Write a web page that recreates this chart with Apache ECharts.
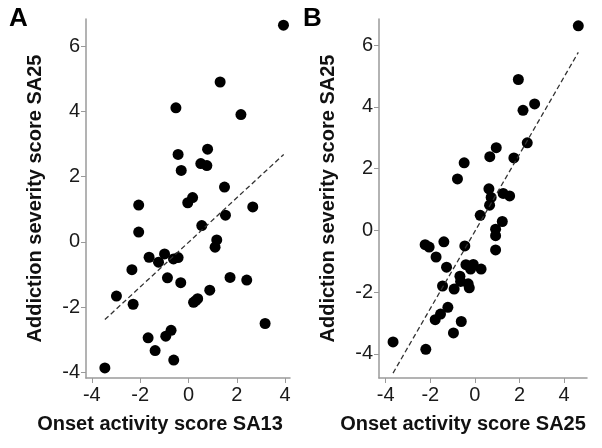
<!DOCTYPE html>
<html>
<head>
<meta charset="utf-8">
<script src="https://cdn.jsdelivr.net/npm/echarts@6/dist/echarts.min.js"></script>
<style>
html,body{margin:0;padding:0;background:#fff;}
#c{width:602px;height:448px;}
</style>
</head>
<body>
<div id="c"></div>
<script>
// Panel A: onset activity score SA13 (x) vs addiction severity SA25 (y)
const panelA_x = [3.93,1.31,-0.52,2.17,0.79,-0.43,0.51,0.76,-0.30,1.49,0.17,-0.03,-2.06,2.66,1.53,0.55,-2.06,1.17,1.10,-1.63,-0.99,-1.24,-0.62,-0.43,-2.34,-0.87,-0.32,1.72,2.41,0.88,-2.98,-2.29,0.21,0.30,0.38,3.17,-0.72,-0.94,-1.67,-1.38,-0.61,-3.46];
const panelA_y = [6.64,4.90,4.11,3.90,2.84,2.68,2.40,2.34,2.19,1.68,1.36,1.20,1.13,1.07,0.82,0.50,0.30,0.06,-0.16,-0.47,-0.37,-0.62,-0.52,-0.48,-0.85,-1.10,-1.25,-1.09,-1.17,-1.48,-1.66,-1.91,-1.85,-1.80,-1.74,-2.50,-2.71,-2.89,-2.94,-3.33,-3.62,-3.86];
// Panel B: onset activity score SA25 (x) vs addiction severity SA25 (y)
const panelB_x = [4.64,1.95,2.16,2.68,2.35,0.96,0.67,1.75,-0.48,-0.78,0.63,0.73,1.27,1.56,0.66,0.24,1.23,0.93,0.93,0.93,-2.23,-2.05,-1.39,-0.45,-1.74,-1.27,-0.40,-0.07,-0.19,0.28,-0.67,-0.64,-0.30,-0.25,-1.45,-0.93,-1.21,-1.54,-1.78,-0.61,-0.96,-3.67,-2.20];
const panelB_y = [6.63,4.89,3.89,4.10,2.84,2.68,2.39,2.35,2.19,1.67,1.35,1.07,1.20,1.12,0.82,0.49,0.29,0.04,-0.17,-0.63,-0.46,-0.54,-0.37,-0.50,-0.86,-1.19,-1.11,-1.10,-1.25,-1.25,-1.48,-1.65,-1.73,-1.86,-1.80,-1.90,-2.49,-2.71,-2.89,-2.95,-3.32,-3.61,-3.85];
// Fitted dashed lines (endpoints)
const fitA_x = [-3.46, 3.94];
const fitA_y = [-2.38, 2.68];
const fitB_x = [-3.67, 4.64];
const fitB_y = [-4.62, 5.77];
// Tick labels
const ticksX = [-4,-2,0,2,4];
const ticksY = [-4,-2,0,2,4,6];
const titleX_A = 'Onset activity score SA13';
const titleX_B = 'Onset activity score SA25';
const titleY = 'Addiction severity score SA25';

const zip = (a,b) => a.map((v,i)=>[v,b[i]]);
const FONT = 'Liberation Sans, Arial, Helvetica, sans-serif';
const axisGray = '#9a9a9a';

function xAxis(idx, min, max){
  return {
    type:'value', gridIndex:idx, min:min, max:max,
    axisLine:{show:true,onZero:false,lineStyle:{color:axisGray,width:1.5}},
    axisTick:{show:true,length:5,customValues:ticksX,lineStyle:{color:axisGray,width:1}},
    axisLabel:{customValues:ticksX,margin:7,fontFamily:FONT,fontSize:20,color:'#1a1a1a'},
    splitLine:{show:false}
  };
}
function yAxis(idx, min, max){
  return {
    type:'value', gridIndex:idx, min:min, max:max, name:titleY,
    nameLocation:'middle', nameGap:41,
    nameTextStyle:{fontFamily:FONT,fontWeight:'bold',fontSize:20,color:'#111'},
    axisLine:{show:true,onZero:false,lineStyle:{color:axisGray,width:1.5}},
    axisTick:{show:true,length:5,customValues:ticksY,lineStyle:{color:axisGray,width:1}},
    axisLabel:{customValues:ticksY,margin:6,fontFamily:FONT,fontSize:20,color:'#1a1a1a'},
    splitLine:{show:false}
  };
}

const chart = echarts.init(document.getElementById('c'), null, {renderer:'canvas'});
chart.setOption({
  animation:false,
  backgroundColor:'#fff',
  grid:[
    {left:86, top:19, width:204, height:359},
    {left:379, top:19, width:208, height:359}
  ],
  xAxis:[xAxis(0,-4.24,4.2), xAxis(1,-4.3,5.03)],
  yAxis:[yAxis(0,-4.17,6.83), yAxis(1,-4.78,6.85)],
  graphic:[
    {type:'text',left:9,top:6,style:{text:'A',font:'bold 26px '+FONT,fill:'#000'}},
    {type:'text',left:303,top:6,style:{text:'B',font:'bold 26px '+FONT,fill:'#000'}},
    {type:'text',x:160,y:424,style:{text:titleX_A,font:'bold 20px '+FONT,fill:'#111',align:'center',verticalAlign:'middle'}},
    {type:'text',x:463,y:424,style:{text:titleX_B,font:'bold 20px '+FONT,fill:'#111',align:'center',verticalAlign:'middle'}}
  ],
  series:[
    {type:'line',xAxisIndex:0,yAxisIndex:0,data:zip(fitA_x,fitA_y),showSymbol:false,symbol:'none',
     lineStyle:{color:'#333',width:1.3,type:[5,3]}},
    {type:'scatter',xAxisIndex:0,yAxisIndex:0,data:zip(panelA_x,panelA_y),symbolSize:11,
     itemStyle:{color:'#000',opacity:1}},
    {type:'line',xAxisIndex:1,yAxisIndex:1,data:zip(fitB_x,fitB_y),showSymbol:false,symbol:'none',
     lineStyle:{color:'#333',width:1.3,type:[5,3]}},
    {type:'scatter',xAxisIndex:1,yAxisIndex:1,data:zip(panelB_x,panelB_y),symbolSize:11,
     itemStyle:{color:'#000',opacity:1}}
  ]
});
</script>
</body>
</html>
